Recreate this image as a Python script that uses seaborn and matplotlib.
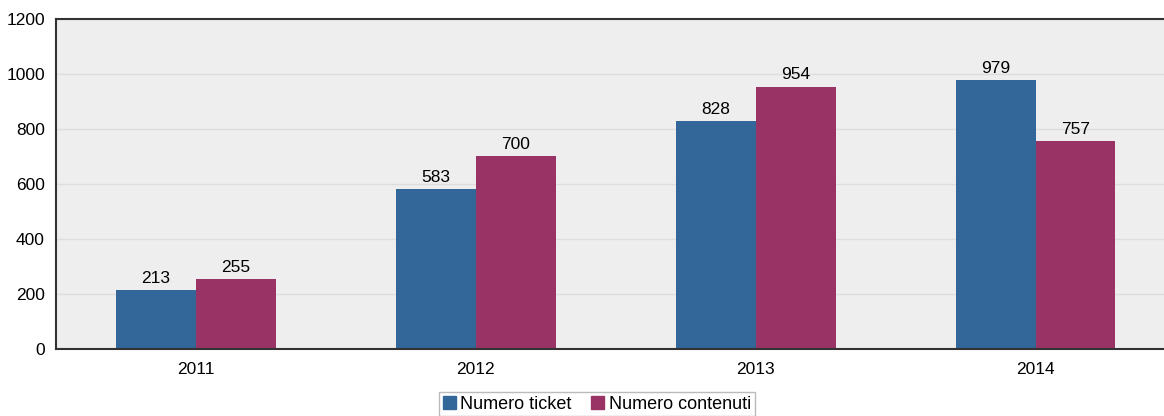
import pandas as pd
import numpy as np
import matplotlib.pyplot as plt
import seaborn as sns
from matplotlib.patches import Patch

# data
years = ['2011', '2012', '2013', '2014']
ticket = [213, 583, 828, 979]
contenuti = [255, 700, 954, 757]
series_names = ['Numero ticket', 'Numero contenuti']
colors = ['#336699', '#993366']

df = pd.DataFrame({
    'Anno': years * 2,
    'Valore': ticket + contenuti,
    'Serie': [series_names[0]] * 4 + [series_names[1]] * 4,
})

sns.set_style('white')
plt.rcParams['font.family'] = ['Liberation Sans', 'DejaVu Sans']
plt.rcParams['text.color'] = 'black'
plt.rcParams['xtick.color'] = '#888888'
plt.rcParams['ytick.color'] = '#888888'
plt.rcParams['xtick.labelcolor'] = 'black'
plt.rcParams['ytick.labelcolor'] = 'black'

fig = plt.figure(figsize=(11.64, 4.16), dpi=100)
ax = fig.add_axes([56 / 1164, 1 - 349 / 416, 1 - 56 / 1164 + 0.01, 330 / 416])
ax.set_facecolor('#eeeeee')

sns.barplot(data=df, x='Anno', y='Valore', hue='Serie', palette=colors,
            width=0.57, saturation=1, linewidth=0, ax=ax, legend=False)

for c in ax.containers:
    ax.bar_label(c, fontsize=12.5, padding=3, color='black')

ax.set_ylim(0, 1200)
ax.set_yticks(range(0, 1201, 200))
ax.set_xlim(-0.5, 3.5)
ax.yaxis.grid(True, color='#dedede', linewidth=1)
ax.set_axisbelow(True)
ax.set_xlabel('')
ax.set_ylabel('')
ax.tick_params(axis='x', which='major', length=0, labelsize=12.5, pad=9)
ax.tick_params(axis='y', length=5, labelsize=12.5, pad=3)
ax.set_xticks(np.arange(-0.5, 3.6, 1), minor=True)
ax.tick_params(axis='x', which='minor', length=5)
for s in ['left', 'top', 'bottom']:
    ax.spines[s].set_color('#333333')
    ax.spines[s].set_linewidth(1.5)
ax.spines['right'].set_visible(False)

handles = [Patch(color=colors[0], label=series_names[0]),
           Patch(color=colors[1], label=series_names[1])]
fig.legend(handles=handles, loc='upper center', bbox_to_anchor=(597 / 1164, 1 - 392 / 416),
           ncol=2, frameon=True, fancybox=False, edgecolor='#aaaaaa', fontsize=13,
           handlelength=0.7, handleheight=0.7, handletextpad=0.25, columnspacing=1.1,
           borderpad=0.2, borderaxespad=0)

fig.savefig('out.png', dpi=100)
